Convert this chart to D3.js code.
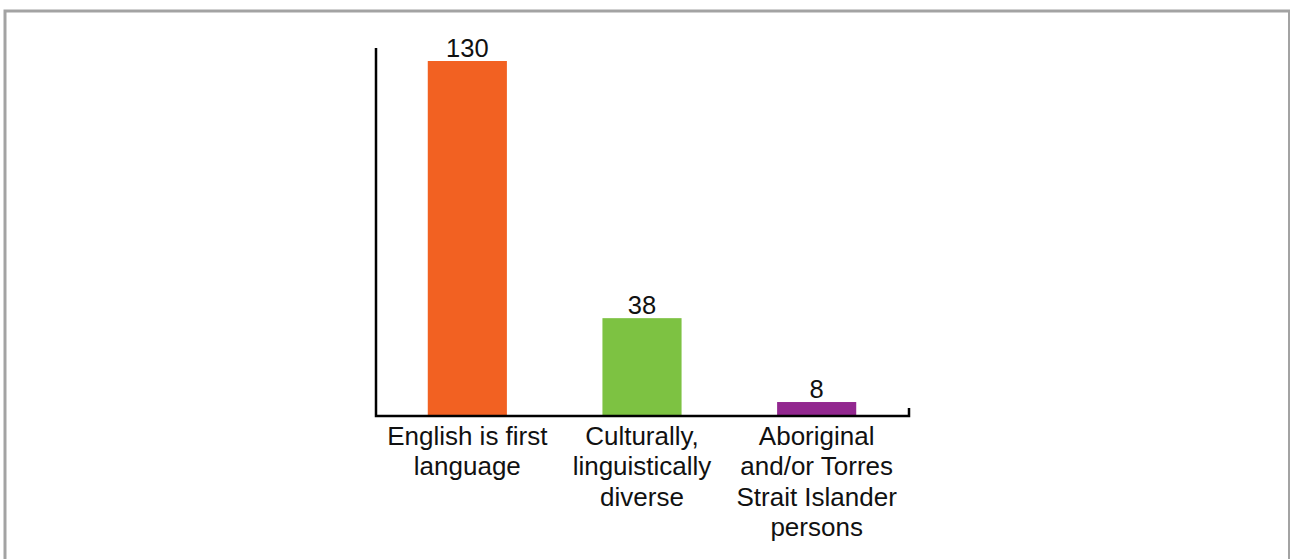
<!DOCTYPE html>
<html>
<head>
<meta charset="utf-8">
<script src="https://cdn.jsdelivr.net/npm/d3@7"></script>
<style>
  html, body { margin: 0; padding: 0; background: #fff; }
  svg { display: block; }
  text { font-family: "Liberation Sans", Arial, Helvetica, sans-serif; fill: #111; }
</style>
</head>
<body>
<svg id="chart" width="1290" height="559"></svg>
<script>
// Students by background
const categories = [
  "English is first language",
  "Culturally, linguistically diverse",
  "Aboriginal and/or Torres Strait Islander persons"
];
const labelLines = [
  ["English is first", "language"],
  ["Culturally,", "linguistically", "diverse"],
  ["Aboriginal", "and/or Torres", "Strait Islander", "persons"]
];
const values = [130, 38, 8];
const colors = ["#F26122", "#7DC242", "#92278F"];

const svg = d3.select("#chart");
const W = 1290, H = 559;

// frame
svg.append("rect")
  .attr("x", 5).attr("y", 11)
  .attr("width", 1284.5).attr("height", H)
  .attr("fill", "none")
  .attr("stroke", "#a3a3a3")
  .attr("stroke-width", 3);

const axisLeft = 376, axisRight = 909, axisTop = 48, axisBase = 416;

const x = d3.scaleBand()
  .domain(categories)
  .range([380, 904])
  .paddingInner(0.547)
  .paddingOuter(0.2735);

const y = d3.scaleLinear()
  .domain([3, 130])
  .range([axisBase, 61]);

// bars
svg.append("g").selectAll("rect")
  .data(categories)
  .join("rect")
  .attr("x", d => x(d))
  .attr("width", x.bandwidth())
  .attr("y", (d, i) => y(values[i]))
  .attr("height", (d, i) => axisBase - y(values[i]))
  .attr("fill", (d, i) => colors[i]);

// axis lines
svg.append("path")
  .attr("d", `M${axisLeft},${axisTop}V${axisBase}H${axisRight}V${axisBase - 8}`)
  .attr("fill", "none")
  .attr("stroke", "#000")
  .attr("stroke-width", 2.5);

// value labels
svg.append("g").selectAll("text")
  .data(categories)
  .join("text")
  .attr("x", d => x(d) + x.bandwidth() / 2)
  .attr("y", (d, i) => y(values[i]) - 4.5)
  .attr("text-anchor", "middle")
  .attr("font-size", 25.5)
  .text((d, i) => values[i]);

// category labels, wrapped under each bar
const cat = svg.append("g").selectAll("text")
  .data(categories)
  .join("text")
  .attr("y", 444.5)
  .attr("text-anchor", "middle")
  .attr("font-size", 26);

cat.each(function(d, i) {
  const t = d3.select(this);
  const cx = x(d) + x.bandwidth() / 2;
  labelLines[i].forEach((line, j) => {
    t.append("tspan")
      .attr("x", cx)
      .attr("dy", j === 0 ? 0 : 30.5)
      .text(line);
  });
});
</script>
</body>
</html>
